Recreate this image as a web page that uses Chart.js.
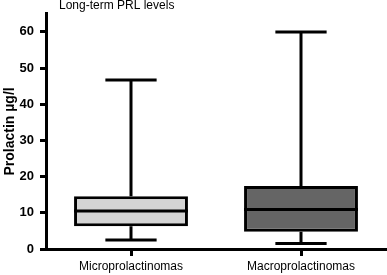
<!DOCTYPE html>
<html>
<head>
<meta charset="utf-8">
<script src="https://cdn.jsdelivr.net/npm/chart.js@4.4.0/dist/chart.umd.min.js"></script>
<style>
	html, body { margin: 0; padding: 0; background: #fff; }
	#wrap { width: 387px; height: 275px; }
</style>
</head>
<body>
<div id="wrap"><canvas id="myChart" width="387" height="275"></canvas></div>
<script>
// box plot values
const categories = ["Microprolactinomas", "Macroprolactinomas"];
const minVals = [2.5, 1.5];
const q1Vals = [6.3, 4.8];
const medianVals = [10.5, 10.9];
const q3Vals = [14.6, 17.4];
const maxVals = [46.7, 60];
const boxColors = ["#d4d4d4", "#656565"];
const chartTitle = "Long-term PRL levels";
const yTitle = "Prolactin \u00b5g/l";

const fontFamily = "'Liberation Sans', Arial, sans-serif";

// whiskers, caps and median lines, placed with the chart's own scales
const boxPlotLines = {
	id: "boxPlotLines",
	afterDatasetsDraw(chart) {
		const ctx = chart.ctx;
		const yScale = chart.scales.y;
		const meta = chart.getDatasetMeta(0);
		ctx.save();
		ctx.strokeStyle = "#000";
		ctx.lineWidth = 3;
		ctx.lineCap = "butt";
		meta.data.forEach((bar, i) => {
			const x = bar.x;
			const half = bar.width / 2;
			const capHalf = bar.width * 0.225;
			const yMin = yScale.getPixelForValue(minVals[i]);
			const yQ1 = yScale.getPixelForValue(q1Vals[i]);
			const yMed = yScale.getPixelForValue(medianVals[i]);
			const yQ3 = yScale.getPixelForValue(q3Vals[i]);
			const yMax = yScale.getPixelForValue(maxVals[i]);
			ctx.beginPath();
			// upper whisker + cap
			ctx.moveTo(x, yQ3);
			ctx.lineTo(x, yMax);
			ctx.moveTo(x - capHalf, yMax);
			ctx.lineTo(x + capHalf, yMax);
			// lower whisker + cap
			ctx.moveTo(x, yQ1);
			ctx.lineTo(x, yMin);
			ctx.moveTo(x - capHalf, yMin);
			ctx.lineTo(x + capHalf, yMin);
			// median
			ctx.moveTo(x - half, yMed);
			ctx.lineTo(x + half, yMed);
			ctx.stroke();
		});
		ctx.restore();
	},
	afterDraw(chart) {
		const ctx = chart.ctx;
		ctx.save();
		ctx.fillStyle = "#000";
		ctx.font = "12px " + fontFamily;
		ctx.textBaseline = "alphabetic";
		ctx.textAlign = "left";
		ctx.fillText(chartTitle, 59, 9);
		ctx.restore();
	},
};

const ctx = document.getElementById("myChart");
const myChart = new Chart(ctx, {
	type: "bar",
	data: {
		labels: categories,
		datasets: [
			{
				data: categories.map((c, i) => [q1Vals[i], q3Vals[i]]),
				backgroundColor: boxColors,
				borderColor: "#000",
				borderWidth: 3,
				borderSkipped: false,
				categoryPercentage: 1,
				barPercentage: 0.67,
			},
		],
	},
	plugins: [boxPlotLines],
	options: {
		responsive: false,
		devicePixelRatio: 1,
		animation: false,
		layout: {
			padding: { left: 0, top: 13, right: 1, bottom: 0 },
		},
		plugins: {
			legend: { display: false },
			tooltip: { enabled: false },
			title: { display: false },
		},
		scales: {
			x: {
				offset: true,
				grid: {
					offset: false,
					drawOnChartArea: false,
					drawTicks: true,
					tickLength: 7,
					color: "#000",
					lineWidth: 3,
				},
				border: { display: true, color: "#000", width: 3 },
				ticks: {
					color: "#000",
					padding: 3,
					font: { family: fontFamily, size: 12 },
					maxRotation: 0,
				},
				afterFit(scale) {
					scale.height = 26;
				},
			},
			y: {
				min: 0,
				max: 65,
				grid: {
					drawOnChartArea: false,
					drawTicks: true,
					tickLength: 6,
					color: "#000",
					lineWidth: 3,
				},
				border: { display: true, color: "#000", width: 3 },
				ticks: {
					stepSize: 10,
					includeBounds: false,
					color: "#000",
					padding: 6,
					font: { family: fontFamily, size: 13, weight: "bold" },
				},
				title: {
					display: true,
					text: yTitle,
					color: "#000",
					padding: { top: 2, bottom: 0 },
					font: { family: fontFamily, size: 14, weight: "bold" },
				},
				afterFit(scale) {
					scale.width = 46;
				},
			},
		},
	},
});
</script>
</body>
</html>
